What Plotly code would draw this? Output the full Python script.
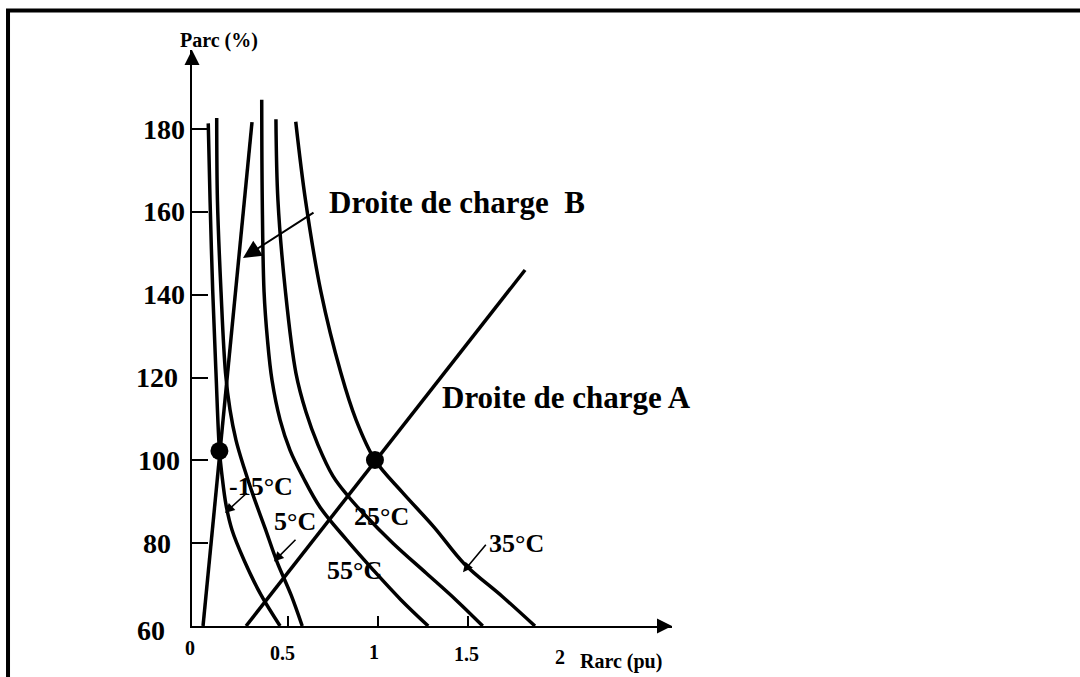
import plotly.graph_objects as go

# Arc power (%) versus arc resistance (pu) at several ambient temperatures
rarc_m15 = [0.057, 0.067, 0.082, 0.100, 0.119, 0.133, 0.156, 0.189, 0.256, 0.350, 0.456]
parc_m15 = [181.4, 162.9, 140.7, 121.1, 102.5, 96.5, 89.2, 83.2, 75.9, 67.5, 60.0]

rarc_5 = [0.104, 0.108, 0.128, 0.153, 0.178, 0.211, 0.256, 0.306, 0.372, 0.439, 0.517, 0.579]
parc_5 = [182.7, 162.9, 140.7, 121.1, 112.2, 104.9, 98.2, 91.6, 83.7, 75.5, 67.5, 60.0]

rarc_55 = [0.354, 0.357, 0.367, 0.386, 0.411, 0.456, 0.511, 0.583, 0.678, 0.826, 0.974, 1.128, 1.279]
parc_55 = [187.1, 162.9, 140.7, 129.1, 119.4, 109.8, 102.5, 96.0, 88.7, 80.8, 73.5, 66.3, 60.0]

rarc_25 = [0.433, 0.444, 0.486, 0.544, 0.600, 0.667, 0.750, 0.833, 0.917, 1.083, 1.267, 1.433, 1.582]
parc_25 = [182.4, 162.9, 140.7, 121.1, 111.7, 103.7, 96.2, 91.4, 87.3, 80.0, 72.8, 66.3, 60.0]

rarc_35 = [0.543, 0.597, 0.683, 0.794, 0.878, 0.983, 1.133, 1.311, 1.480, 1.689, 1.872]
parc_35 = [181.8, 162.9, 140.7, 121.1, 109.8, 100.1, 92.4, 83.9, 75.0, 67.2, 60.0]

# Load lines and operating points
rarc_load_a = [0.267, 1.817]
parc_load_a = [60.0, 146.0]
rarc_load_b = [0.028, 0.300]
parc_load_b = [60.0, 181.7]
rarc_points = [0.119, 0.983]
parc_points = [102.3, 100.1]

# Axis ticks and labels
X_RANGE = [-0.0333, 2.6333]
Y_RANGE = [60.0, 199.13]
y_ticks = [80, 100, 120, 140, 160, 180]
y_tick_labels = ["60", "80", "100", "120", "140", "160", "180"]
y_label_values = [59, 80, 100, 120, 140, 160, 180]
y_label_right = [-0.172, -0.139, -0.089, -0.100, -0.061, -0.061, -0.061]
x_ticks = [0.5, 1.0, 1.5]
x_tick_labels = ["0", "0.5", "1", "1.5", "2"]
x_label_values = [-0.044, 0.472, 0.978, 1.494, 2.011]
x_label_y = [54.7, 53.5, 53.7, 53.2, 52.5]

FONT = "Liberation Serif"
INK = "black"


def paper_x(v):
    return (v - X_RANGE[0]) / (X_RANGE[1] - X_RANGE[0])


def paper_y(v):
    return (v - Y_RANGE[0]) / (Y_RANGE[1] - Y_RANGE[0])


fig = go.Figure()

curves = [
    ("-15°C", rarc_m15, parc_m15),
    ("5°C", rarc_5, parc_5),
    ("55°C", rarc_55, parc_55),
    ("25°C", rarc_25, parc_25),
    ("35°C", rarc_35, parc_35),
]
for name, xs, ys in curves:
    fig.add_trace(go.Scatter(
        x=xs, y=ys, name=name, mode="lines",
        line=dict(color=INK, width=3.5, shape="spline", smoothing=1.0),
        showlegend=False, hoverinfo="skip",
    ))

for name, xs, ys in [("Droite de charge A", rarc_load_a, parc_load_a),
                     ("Droite de charge B", rarc_load_b, parc_load_b)]:
    fig.add_trace(go.Scatter(
        x=xs, y=ys, name=name, mode="lines",
        line=dict(color=INK, width=3.5),
        showlegend=False, hoverinfo="skip",
    ))

fig.add_trace(go.Scatter(
    x=rarc_points, y=parc_points, mode="markers",
    marker=dict(color=INK, size=18),
    showlegend=False, hoverinfo="skip",
))

annotations = []


def label(text, x, y, size, xanchor="left", yanchor="middle"):
    # Placed in paper space so captions outside the axis ranges still show
    annotations.append(dict(
        text=text, x=paper_x(x), y=paper_y(y), xref="paper", yref="paper",
        showarrow=False, xanchor=xanchor, yanchor=yanchor,
        font=dict(family=FONT, size=size, color=INK, weight="bold"),
    ))


def pointer(x, y, ax, ay, size=1.2, width=1.6):
    annotations.append(dict(
        text="", x=x, y=y, ax=ax, ay=ay, xref="x", yref="y",
        axref="x", ayref="y", showarrow=True, arrowhead=2,
        arrowsize=size, arrowwidth=width, arrowcolor=INK,
    ))


# Tick labels
for txt, yv, xr in zip(y_tick_labels, y_label_values, y_label_right):
    label(txt, xr, yv, 28, xanchor="right")
for txt, xv, yv in zip(x_tick_labels, x_label_values, x_label_y):
    label(txt, xv, yv, 20, xanchor="center")

# Axis titles
label("Parc (%)", 0.117, 201.4, 20, xanchor="center")
label("Rarc (pu)", 2.111, 51.4, 20)

# Load line captions
label("Droite de charge A", 1.344, 115.3, 31)
label("Droite de charge  B", 0.717, 162.2, 31)
pointer(0.250, 148.9, 0.650, 160.1, size=1.8, width=2)

# Temperature captions
label("-15°C", 0.161, 93.8, 26)
pointer(0.150, 87.3, 0.278, 92.4)
label("5°C", 0.411, 85.2, 26)
pointer(0.422, 75.6, 0.550, 81.2)
label("25°C", 0.856, 86.4, 26)
label("55°C", 0.706, 73.5, 26)
label("35°C", 1.606, 80.0, 26)
pointer(1.472, 73.0, 1.606, 80.0)

fig.update_layout(annotations=annotations)

# Arrow heads at the ends of both axes, and the frame around the figure
shapes = [
    dict(type="path", xref="paper", yref="paper",
         path="M 0.96875,0.013 L 1.0,0 L 0.96875,-0.013 Z",
         fillcolor=INK, line=dict(width=0)),
    dict(type="path", xref="paper", yref="paper",
         path="M -0.0156,0.974 L 0,1.0 L 0.0156,0.974 Z",
         fillcolor=INK, line=dict(width=0)),
    dict(type="path", xref="paper", yref="paper",
         path="M -0.3833,-0.2 L -0.3833,1.0686 L 1.9,1.0686",
         line=dict(color=INK, width=4)),
]
fig.update_layout(shapes=shapes)

fig.update_xaxes(
    range=X_RANGE, showgrid=False, zeroline=False,
    showline=True, linecolor=INK, linewidth=2,
    tickvals=x_ticks, ticks="inside", ticklen=10, tickwidth=2, tickcolor=INK,
    showticklabels=False,
)
fig.update_yaxes(
    range=Y_RANGE, showgrid=False, zeroline=False,
    showline=True, linecolor=INK, linewidth=2,
    tickvals=y_ticks, ticks="inside", ticklen=16, tickwidth=2, tickcolor=INK,
    showticklabels=False,
)

fig.update_layout(
    width=1080, height=677,
    margin=dict(l=192, r=408, t=50, b=51),
    paper_bgcolor="white", plot_bgcolor="white",
    showlegend=False,
)

fig.write_html("out.html")
